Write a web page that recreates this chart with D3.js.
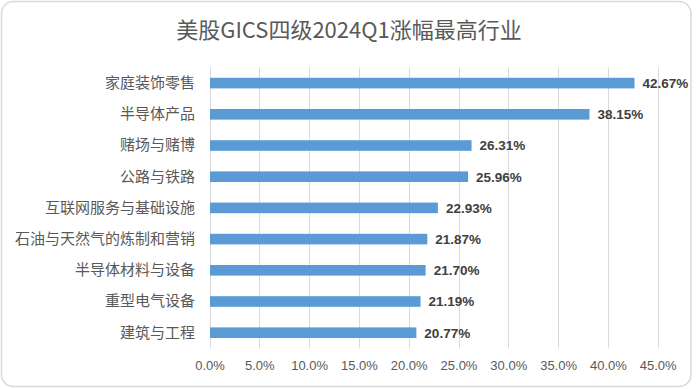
<!DOCTYPE html>
<html><head><meta charset="utf-8">
<script src="https://cdn.jsdelivr.net/npm/d3@7/dist/d3.min.js"></script>
<style>
html,body{margin:0;padding:0;background:#fff;}
svg{display:block;}
</style></head>
<body>
<script>
const title = "美股GICS四级2024Q1涨幅最高行业";
const categories = ["家庭装饰零售","半导体产品","赌场与赌博","公路与铁路","互联网服务与基础设施","石油与天然气的炼制和营销","半导体材料与设备","重型电气设备","建筑与工程"];
const values = [42.67, 38.15, 26.31, 25.96, 22.93, 21.87, 21.70, 21.19, 20.77];
const tickValues = [0,5,10,15,20,25,30,35,40,45];

const W = 696, H = 389;
const svg = d3.select("body").append("svg").attr("width", W).attr("height", H);

svg.append("rect").attr("x",1.5).attr("y",1.5).attr("width",689.5).attr("height",385)
  .attr("rx",12).attr("ry",12).attr("fill","#fff").attr("stroke","#d9d9d9").attr("stroke-width",1.5);

svg.append("text").attr("x",349).attr("y",38).attr("text-anchor","middle")
  .attr("font-family","'Noto Sans CJK SC','Noto Sans',sans-serif").attr("font-size",22)
  .attr("fill","#595959").text(title);

const x = d3.scaleLinear().domain([0,45]).range([209.5,657.7]);
const y = d3.scaleBand().domain(categories).range([67.5,348.3]).paddingInner(0.66).paddingOuter(0.33);

// gridlines
svg.append("g").selectAll("line").data(tickValues).join("line")
  .attr("x1",d=>Math.round(x(d))+0.5).attr("x2",d=>Math.round(x(d))+0.5)
  .attr("y1",67.5).attr("y2",348.3)
  .attr("stroke","#d9d9d9").attr("stroke-width",1);

// x axis labels
const xAxis = d3.axisBottom(x).tickValues(tickValues).tickFormat(d=>d.toFixed(1)+"%").tickSize(0).tickPadding(0);
const gx = svg.append("g").attr("transform","translate(0,361)").call(xAxis);
gx.select(".domain").remove();
gx.selectAll("text").attr("font-family","'Liberation Sans',Arial,sans-serif").attr("font-size",13).attr("fill","#595959");

// y axis labels
const yAxis = d3.axisLeft(y).tickSize(0).tickPadding(0);
const gy = svg.append("g").attr("transform","translate(195,0)").call(yAxis);
gy.select(".domain").remove();
gy.selectAll("text").attr("font-family","'Noto Sans CJK SC',sans-serif").attr("font-size",15).attr("fill","#595959");

// bars
svg.append("g").selectAll("rect").data(values).join("rect")
  .attr("x",x(0)+0.5).attr("y",(d,i)=>y(categories[i]))
  .attr("width",d=>x(d)-x(0)-0.5).attr("height",y.bandwidth())
  .attr("fill","#5b9bd5");

// value labels
svg.append("g").selectAll("text").data(values).join("text")
  .attr("x",d=>x(d)+8).attr("y",(d,i)=>y(categories[i])+y.bandwidth()/2)
  .attr("dy","0.36em")
  .attr("font-family","'Liberation Sans',Arial,sans-serif").attr("font-size",13.5).attr("font-weight","bold")
  .attr("fill","#404040").text(d=>d.toFixed(2)+"%");
</script>
</body></html>
